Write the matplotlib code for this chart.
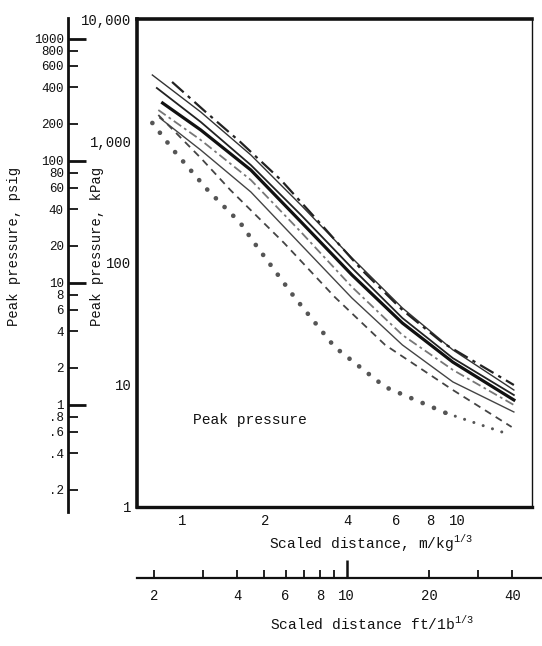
import numpy as np
import matplotlib
matplotlib.use("Agg")
import matplotlib.pyplot as plt
from matplotlib.ticker import FixedLocator, FixedFormatter, NullLocator

plt.rcParams['font.family'] = ['Liberation Mono', 'DejaVu Sans']
plt.rcParams['mathtext.fontset'] = 'custom'
plt.rcParams['mathtext.rm'] = 'Liberation Mono'

# ---- data: peak pressure (kPa) vs scaled distance (m/kg^1/3) ----
x_solid_top = [0.78, 1.17, 1.78, 2.71, 4.15, 6.33, 9.66, 16.1]
y_solid_top = [3475, 1728, 768, 298, 110, 42.8, 19.4, 9.1]

x_dashdot_top = [0.92, 1.22, 1.63, 2.29, 3.22, 4.51, 6.33, 8.89, 16.1]
y_dashdot_top = [3048, 1728, 981, 479, 205, 87.6, 41.2, 22.1, 10.0]

x_solid_mid = [0.81, 1.17, 1.78, 2.71, 4.15, 6.33, 9.66, 16.1]
y_solid_mid = [2718, 1432, 635, 247, 91.0, 35.4, 16.6, 8.28]

x_solid_thick = [0.85, 1.17, 1.78, 2.71, 4.15, 6.33, 9.66, 16.1]
y_solid_thick = [2047, 1231, 578, 217, 79.8, 32.2, 15.4, 7.54]

x_grey_dashdot = [0.82, 1.17, 1.78, 2.71, 4.15, 6.33, 9.66, 16.1]
y_grey_dashdot = [1795, 1019, 479, 179, 63.6, 25.7, 13.3, 6.86]

x_solid_low = [0.83, 1.17, 1.78, 2.71, 4.15, 6.33, 9.66, 16.1]
y_solid_low = [1545, 843, 382, 141, 51.6, 21.3, 10.6, 6.01]

x_dashed = [0.82, 1.17, 1.50, 2.35, 3.59, 5.48, 9.66, 15.8]
y_dashed = [1634, 726, 396, 146, 52.7, 21.3, 9.1, 4.53]

x_dotted = [0.78, 0.93, 1.24, 1.63, 1.82, 2.56, 3.59, 5.48, 9.12]
y_dotted = [1405, 843, 396, 213, 149, 52.7, 20.5, 9.63, 5.89]
x_dotted_tail = [9.12, 15.7]
y_dotted_tail = [5.89, 3.89]

# ---- axis ticks ----
x_ticks_m = [1, 2, 4, 6, 8, 10]
x_labels_m = ['1', '2', '4', '6', '8', '10']
y_ticks_kpa = [1, 10, 100, 1000, 10000]
y_labels_kpa = ['1', '10', '100', '1,000', '10,000']

psi_major = [1, 10, 100, 1000]
psi_major_labels = ['1', '10', '100', '1000']
psi_minor = [0.2, 0.4, 0.6, 0.8, 2, 4, 6, 8, 20, 40, 60, 80, 200, 400, 600, 800]
psi_minor_labels = ['.2', '.4', '.6', '.8', '2', '4', '6', '8', '20', '40', '60', '80',
                    '200', '400', '600', '800']

ft_major = [10]
ft_minor = [2, 3, 4, 5, 6, 7, 8, 9, 20, 30, 40]
ft_minor_labels = ['2', '', '4', '', '6', '', '8', '', '20', '', '40']

KPA_PER_PSI = 6.895
FT_PER_M = 2.52
XLIM_M = (0.686, 18.74)
YLIM_KPA = (1, 10000)

W, H = 542, 646
fig = plt.figure(figsize=(W / 100, H / 100), dpi=100)


def fx(px):
    return px / W


def fy(py):
    return 1 - py / H


# ---- main log-log panel ----
ax = fig.add_axes([fx(137), fy(507), fx(532) - fx(137), fy(19) - fy(507)])
ax.set_xscale('log')
ax.set_yscale('log')
ax.set_xlim(*XLIM_M)
ax.set_ylim(*YLIM_KPA)
for side, lw in [('left', 2.6), ('bottom', 2.4), ('top', 2.6), ('right', 1.0)]:
    ax.spines[side].set_linewidth(lw)
    ax.spines[side].set_color('#111111')

ax.xaxis.set_major_locator(FixedLocator(x_ticks_m))
ax.xaxis.set_major_formatter(FixedFormatter(x_labels_m))
ax.xaxis.set_minor_locator(NullLocator())
ax.yaxis.set_major_locator(FixedLocator(y_ticks_kpa))
ax.yaxis.set_major_formatter(FixedFormatter(y_labels_kpa))
ax.yaxis.set_minor_locator(NullLocator())
ax.tick_params(axis='both', which='both', length=0, labelsize=10, colors='#111111')
ax.tick_params(axis='x', pad=5)
ax.tick_params(axis='y', pad=4)

ax.plot(x_solid_top, y_solid_top, color='#333333', lw=1.0)
ax.plot(x_dashdot_top, y_dashdot_top, color='#222222', lw=1.6,
        linestyle=(0, (7, 2.5, 1.5, 2.5)))
ax.plot(x_solid_mid, y_solid_mid, color='#222222', lw=1.3)
ax.plot(x_solid_thick, y_solid_thick, color='#111111', lw=2.3)
ax.plot(x_grey_dashdot, y_grey_dashdot, color='#777777', lw=1.3,
        linestyle=(0, (5, 2, 1.5, 2)))
ax.plot(x_solid_low, y_solid_low, color='#444444', lw=1.0)
ax.plot(x_dashed, y_dashed, color='#444444', lw=1.3, linestyle=(0, (4, 3)))
ax.plot(x_dotted, y_dotted, color='#555555', lw=3.4,
        linestyle=(0, (0.01, 2.6)), dash_capstyle='round')
ax.plot(x_dotted_tail, y_dotted_tail, color='#555555', lw=2.2,
        linestyle=(0, (0.01, 3.2)), dash_capstyle='round')

ax.text(1.096, 5.17, 'Peak pressure', fontsize=10.5, color='#111111',
        ha='left', va='center')

# ---- psig scale on the far left ----
top_px, bot_px = 18, 512
kpa_top = 10 ** ((507 - top_px) / 122)
kpa_bot = 10 ** ((507 - bot_px) / 122)
axp = fig.add_axes([fx(68), fy(bot_px), 0.0005, fy(top_px) - fy(bot_px)])
axp.set_yscale('log')
axp.set_ylim(kpa_bot / KPA_PER_PSI, kpa_top / KPA_PER_PSI)
for side in ['right', 'top', 'bottom']:
    axp.spines[side].set_visible(False)
axp.spines['left'].set_linewidth(2.0)
axp.spines['left'].set_color('#111111')
axp.set_xticks([])
axp.yaxis.set_major_locator(FixedLocator(psi_major))
axp.yaxis.set_major_formatter(FixedFormatter(psi_major_labels))
axp.yaxis.set_minor_locator(FixedLocator(psi_minor))
axp.yaxis.set_minor_formatter(FixedFormatter(psi_minor_labels))
axp.tick_params(axis='y', which='major', direction='in', length=13, width=2.0,
                labelsize=9, pad=3, colors='#111111')
axp.tick_params(axis='y', which='minor', direction='in', length=7, width=1.3,
                labelsize=9, pad=3, colors='#111111')
axp.patch.set_visible(False)

# ---- ft/lb^1/3 scale below ----
ft_left, ft_right = 137, 541
m_right = 10 ** ((ft_right - 182) / 275)
axf = fig.add_axes([fx(ft_left), fy(578), fx(ft_right) - fx(ft_left), 0.0005])
axf.set_xscale('log')
axf.set_xlim(XLIM_M[0] * FT_PER_M, m_right * FT_PER_M)
for side in ['left', 'right', 'top']:
    axf.spines[side].set_visible(False)
axf.spines['bottom'].set_linewidth(1.6)
axf.spines['bottom'].set_color('#111111')
axf.set_yticks([])
axf.xaxis.set_major_locator(FixedLocator(ft_major))
axf.xaxis.set_major_formatter(FixedFormatter(['10']))
axf.xaxis.set_minor_locator(FixedLocator(ft_minor))
axf.xaxis.set_minor_formatter(FixedFormatter(ft_minor_labels))
axf.tick_params(axis='x', which='major', direction='in', length=13, width=1.8,
                labelsize=10, pad=8, colors='#111111')
axf.tick_params(axis='x', which='minor', direction='in', length=6, width=1.3,
                labelsize=10, pad=8, colors='#111111')
axf.patch.set_visible(False)

# ---- axis titles ----
fig.text(fx(269), fy(543), r'Scaled distance, m/kg$^{\mathregular{1/3}}$',
         fontsize=10.5, ha='left', va='center', color='#111111')
fig.text(fx(270), fy(623), r'Scaled distance ft/1b$^{\mathregular{1/3}}$',
         fontsize=10.5, ha='left', va='center', color='#111111')
fig.text(fx(14), fy(246), 'Peak pressure, psig', fontsize=10, rotation=90,
         ha='center', va='center', color='#111111')
fig.text(fx(97), fy(246), 'Peak pressure, kPag', fontsize=10, rotation=90,
         ha='center', va='center', color='#111111')

fig.savefig('out.png', dpi=100, facecolor='white')
